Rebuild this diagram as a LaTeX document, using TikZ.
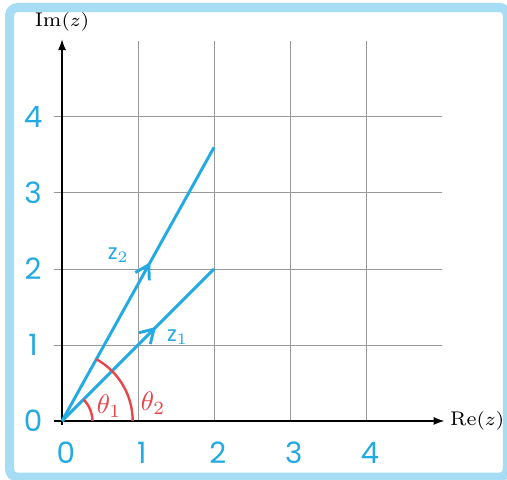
\documentclass[tikz,border=0pt]{standalone}
\usepackage{fontspec}
\newfontfamily\hand{Poppins}
\usetikzlibrary{arrows.meta,decorations.markings}
\definecolor{zblue}{RGB}{36,170,226}
\definecolor{angred}{RGB}{230,70,75}
\definecolor{framecol}{RGB}{166,221,245}
\tikzset{
  gridline/.style={gray!80,line width=0.35pt},
  axis/.style={line width=0.4pt,-{Latex[length=4pt,width=3pt]}},
  axislabel/.style={black,inner sep=1pt,font=\fontsize{7.4}{8}\selectfont},
  vec/.style={zblue,line width=1.1pt,postaction={decorate},
    decoration={markings,mark=at position #1 with {\arrow{Straight Barb[length=5pt,width=6pt,line width=1.1pt]}}}},
  ticklabel/.style={zblue,font=\hand\fontsize{11}{11}\selectfont},
  vlabel/.style={zblue,font=\hand\fontsize{8}{8}\selectfont},
  anglabel/.style={angred,font=\hand\fontsize{10}{10}\selectfont},
}
\begin{document}
\begin{tikzpicture}
\useasboundingbox (-0.816,-0.776) rectangle (5.855,5.539);
\fill[white] (-0.816,-0.776) rectangle (5.855,5.539);
\draw[framecol,line width=3.4pt,rounded corners=3pt] (-0.69,-0.74) rectangle (5.86,5.44);

% grid
\foreach \x in {1,...,4}
  \draw[gridline] (\x,0) -- (\x,5);
\foreach \y in {1,...,4}
  \draw[gridline] (-0.1,\y) -- (5,\y);

% axes
\coordinate (O) at (0,0);
\draw[axis] (-0.1,0) -- (5.03,0) node[right,axislabel,xshift=1pt] (re) {Re$(z)$};
\draw[axis] (0,-0.05) -- (0,5.02) node[above,axislabel,yshift=2pt] (im) {Im$(z)$};

% tick labels
\foreach \n in {0,...,4} {
  \node[ticklabel] (x\n) at (\n+0.05,-0.42) {\n};
  \node[ticklabel] (y\n) at (-0.38,\n) {\n};
}

% vectors
\coordinate (z1) at (2,2);
\coordinate (z2) at (2,3.6);
\draw[vec=0.62] (O) -- (z1);
\draw[vec=0.58] (O) -- (z2);
\node[vlabel] (lz1) at (1.52,1.1) {z$_1$};
\node[vlabel] (lz2) at (0.74,2.18) {z$_2$};

% angles
\draw[angred,line width=0.9pt] (0.4,0) arc[start angle=0,end angle=45,radius=0.4];
\draw[angred,line width=0.9pt] (0.93,0) arc[start angle=0,end angle=60.9,radius=0.93];
\node[anglabel] (t1) at (0.62,0.2) {$\theta_1$};
\node[anglabel] (t2) at (1.2,0.24) {$\theta_2$};
\end{tikzpicture}
\end{document}
